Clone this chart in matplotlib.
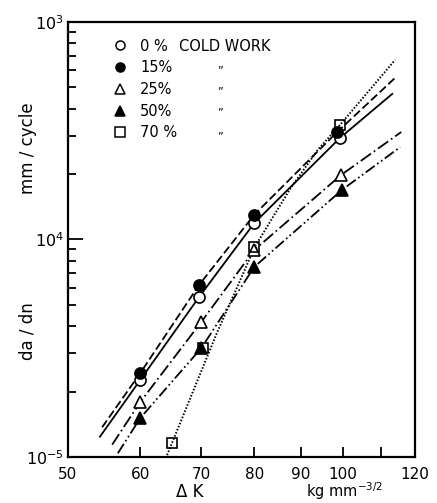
import matplotlib
matplotlib.use("Agg")
import matplotlib.pyplot as plt
from matplotlib.lines import Line2D
from matplotlib.ticker import FixedLocator, NullFormatter, FixedFormatter

plt.rcParams['font.family'] = ['DejaVu Sans']
plt.rcParams['lines.scale_dashes'] = False

# ---- data ----
labels = ["0 %", "15%", "25%", "50%", "70 %"]

# measured points
x_0 = [60, 69.6, 80, 99.3]
y_0 = [2.26e-5, 5.44e-5, 1.19e-4, 2.93e-4]
x_15 = [60, 69.6, 80, 98.6]
y_15 = [2.43e-5, 6.18e-5, 1.30e-4, 3.12e-4]
x_25 = [60, 70, 80, 99.6]
y_25 = [1.79e-5, 4.18e-5, 8.95e-5, 1.98e-4]
x_50 = [60, 70, 80, 99.8]
y_50 = [1.51e-5, 3.17e-5, 7.48e-5, 1.69e-4]
x_70 = [65, 70.2, 80, 99.3]
y_70 = [1.16e-5, 3.18e-5, 9.24e-5, 3.36e-4]

# drawn curves
cx_0 = [54.2, 60, 69.6, 80, 99.3, 113.3]
cy_0 = [1.24e-5, 2.26e-5, 5.44e-5, 1.19e-4, 2.93e-4, 4.67e-4]
cx_15 = [54.5, 60, 69.6, 80, 98.6, 114.1]
cy_15 = [1.37e-5, 2.43e-5, 6.18e-5, 1.30e-4, 3.12e-4, 5.53e-4]
cx_25 = [55.9, 60, 70, 80, 99.6, 115.9]
cy_25 = [1.14e-5, 1.79e-5, 4.18e-5, 8.95e-5, 1.98e-4, 3.12e-4]
cx_50 = [56.7, 60, 70, 80, 99.8, 115.6]
cy_50 = [1.04e-5, 1.51e-5, 3.17e-5, 7.48e-5, 1.69e-4, 2.66e-4]
cx_70 = [64.2, 65, 72.8, 76.8, 80.1, 87.5, 94.0, 99.3, 114.1]
cy_70 = [1.02e-5, 1.16e-5, 3.72e-5, 6.18e-5, 9.24e-5, 1.70e-4, 2.60e-4, 3.36e-4, 6.69e-4]

x_ticks = [50, 60, 70, 80, 90, 100, 120]
x_ticklabels = ["50", "60", "70", "80", "90", "100", "120"]
x_minor = [110]
y_ticks = [1e-5, 1e-4, 1e-3]
y_ticklabels = [r"$10^{-5}$", r"$10^{4}$", r"$10^{3}$"]

# ---- figure ----
fig = plt.figure(figsize=(4.37, 5.03), dpi=100)
ax = fig.add_axes([0.1556, 0.0915, 0.7941, 0.8648])
ax.set_xscale('log')
ax.set_yscale('log')
ax.set_xlim(50, 120)
ax.set_ylim(1e-5, 1e-3)

lw = 1.3
ax.plot(cx_0, cy_0, color='black', lw=lw, linestyle='-')
ax.plot(cx_15, cy_15, color='black', lw=lw, linestyle=(0, (6, 2.5)))
ax.plot(cx_25, cy_25, color='black', lw=lw, linestyle=(0, (9, 2.5, 1.2, 2.5)))
ax.plot(cx_50, cy_50, color='black', lw=lw, linestyle=(0, (8, 2.2, 1.2, 2.2, 1.2, 2.2)))
ax.plot(cx_70, cy_70, color='black', lw=1.4, linestyle=(0, (1.1, 1.3)))

ms = 8
mew = 1.2
ax.plot(x_0, y_0, 'o', ms=ms, mfc='white', mec='black', mew=mew, zorder=5)
ax.plot(x_15, y_15, 'o', ms=ms, mfc='black', mec='black', mew=mew, zorder=5)
ax.plot(x_25, y_25, '^', ms=ms, mfc='white', mec='black', mew=mew, zorder=5)
ax.plot(x_50, y_50, '^', ms=ms, mfc='black', mec='black', mew=mew, zorder=5)
ax.plot(x_70, y_70, 's', ms=7.5, mfc='none', mec='black', mew=mew, zorder=6)

# legend
handles = [
    Line2D([], [], marker='o', ls='none', ms=6.5, mfc='white', mec='black', mew=1.1),
    Line2D([], [], marker='o', ls='none', ms=6.5, mfc='black', mec='black', mew=1.1),
    Line2D([], [], marker='^', ls='none', ms=6.5, mfc='white', mec='black', mew=1.1),
    Line2D([], [], marker='^', ls='none', ms=6.5, mfc='black', mec='black', mew=1.1),
    Line2D([], [], marker='s', ls='none', ms=6.5, mfc='white', mec='black', mew=1.1),
]
leg = ax.legend(handles, labels, loc='upper left', bbox_to_anchor=(0.132, 0.962),
                frameon=False, fontsize=10.5, handlelength=0.8, handletextpad=1.0,
                labelspacing=0.46, borderaxespad=0, borderpad=0)
ax.text(0.32, 0.9425, "COLD WORK", transform=ax.transAxes, fontsize=10.5,
        ha='left', va='center')
for yy in [0.889, 0.840, 0.792, 0.737]:
    ax.text(0.437, yy, "\u201d", transform=ax.transAxes, fontsize=8,
            ha='center', va='center')

# ticks
ax.xaxis.set_major_locator(FixedLocator(x_ticks))
ax.xaxis.set_major_formatter(FixedFormatter(x_ticklabels))
ax.xaxis.set_minor_locator(FixedLocator(x_minor))
ax.xaxis.set_minor_formatter(NullFormatter())
ax.yaxis.set_major_locator(FixedLocator(y_ticks))
ax.yaxis.set_major_formatter(FixedFormatter(y_ticklabels))
ax.tick_params(axis='both', which='both', direction='in', width=1.3,
               labelsize=11.5, right=False, top=False)
ax.tick_params(axis='x', which='both', length=7, pad=7, labelsize=11)
ax.tick_params(axis='y', which='major', length=11, pad=3)
ax.tick_params(axis='y', which='minor', length=6)

for s in ax.spines.values():
    s.set_linewidth(1.6)

# axis labels
fig.text(28 / 437, 1 - 148 / 503, "mm / cycle", rotation=90, ha='center',
         va='center', fontsize=12)
fig.text(28 / 437, 1 - 331 / 503, "da / dn", rotation=90, ha='center',
         va='center', fontsize=12)
fig.text(190 / 437, 1 - 492 / 503, "\u0394 K", ha='center', va='center', fontsize=12)
fig.text(344 / 437, 1 - 491 / 503, r"kg mm$^{-3/2}$", ha='center', va='center',
         fontsize=10.5)

fig.savefig("out.png", dpi=100)
